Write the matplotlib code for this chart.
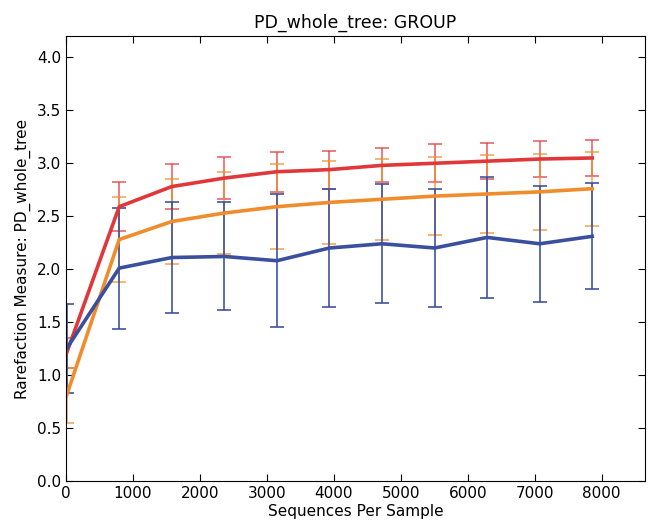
import matplotlib
matplotlib.use("Agg")
import matplotlib.pyplot as plt

# sequences per sample (rarefaction depths)
depths = [10, 795, 1580, 2365, 3150, 3935, 4720, 5505, 6290, 7075, 7860]

# mean PD_whole_tree and std dev per group
red_mean = [1.21, 2.59, 2.78, 2.86, 2.92, 2.94, 2.98, 3.00, 3.02, 3.04, 3.05]
red_sd = [0.14, 0.23, 0.21, 0.20, 0.19, 0.18, 0.16, 0.18, 0.17, 0.17, 0.17]

orange_mean = [0.81, 2.28, 2.45, 2.53, 2.59, 2.63, 2.66, 2.69, 2.71, 2.73, 2.76]
orange_sd = [0.26, 0.40, 0.40, 0.39, 0.40, 0.39, 0.38, 0.37, 0.37, 0.36, 0.35]

blue_mean = [1.25, 2.01, 2.11, 2.12, 2.08, 2.20, 2.24, 2.20, 2.30, 2.24, 2.31]
blue_sd = [0.42, 0.57, 0.52, 0.51, 0.63, 0.56, 0.56, 0.56, 0.57, 0.55, 0.50]

series = [
    (red_mean, red_sd, "#e0383a", 0.7),
    (orange_mean, orange_sd, "#f08c2c", 0.7),
    (blue_mean, blue_sd, "#3b4f9f", 0.9),
]

fig = plt.figure(figsize=(6.5, 5.24), dpi=100)
ax = fig.add_axes([0.1015, 0.082, 0.891, 0.849])

for mean, sd, col, a in series:
    ax.errorbar(depths, mean, yerr=sd, fmt="none", ecolor=col, elinewidth=1.3,
                capsize=5, capthick=1.3, alpha=a)
for mean, sd, col, a in series:
    ax.plot(depths, mean, color=col, lw=2.6)

ax.set_xlim(0, 8650)
ax.set_ylim(0, 4.2)
ax.set_xticks(range(0, 9000, 1000))
ax.set_yticks([i * 0.5 for i in range(9)])
ax.yaxis.set_major_formatter(matplotlib.ticker.FormatStrFormatter("%.1f"))
ax.tick_params(direction="in", top=True, right=True, labelsize=11, length=5)
ax.set_xlabel("Sequences Per Sample", fontsize=11, labelpad=2)
ax.set_ylabel("Rarefaction Measure: PD_whole_tree", fontsize=11)
ax.set_title("PD_whole_tree: GROUP", fontsize=12.5, pad=6)

fig.savefig("out.png", dpi=100)
